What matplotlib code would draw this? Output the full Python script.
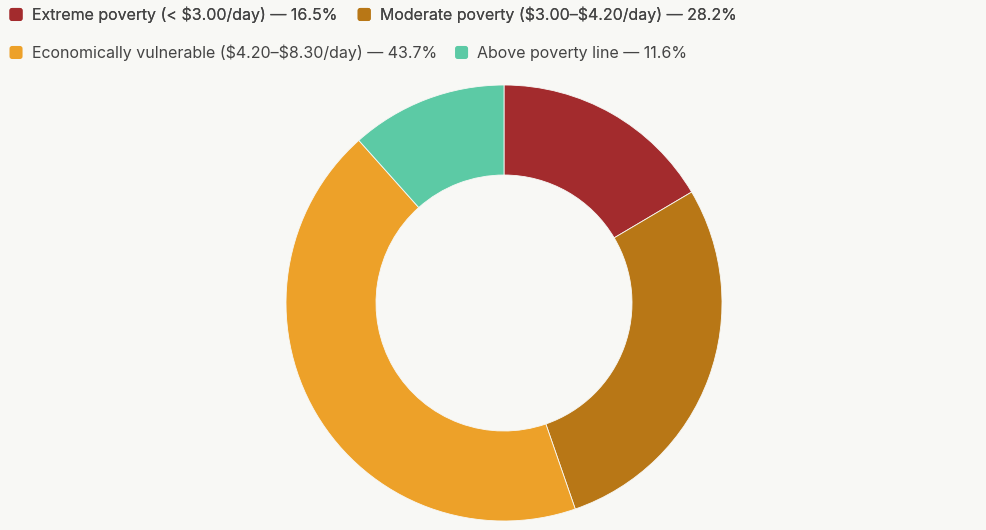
import matplotlib
matplotlib.use("Agg")
import matplotlib.pyplot as plt
from matplotlib.patches import FancyBboxPatch, Patch
from matplotlib.legend_handler import HandlerPatch

categories = ["Extreme poverty (< \\$3.00/day)", "Moderate poverty (\\$3.00\u2013\\$4.20/day)",
              "Economically vulnerable (\\$4.20\u2013\\$8.30/day)", "Above poverty line"]
values = [16.5, 28.2, 43.7, 11.6]
colors = ["#a32b2d", "#b87716", "#eda129", "#5ccaa5"]
bg = "#f8f8f5"

plt.rcParams['font.family'] = ['Inter', 'DejaVu Sans']

W, H = 987, 530
fig = plt.figure(figsize=(W / 100, H / 100), dpi=100)
fig.patch.set_facecolor(bg)

cx, cy, R = 504, 303, 218
ax = fig.add_axes([(cx - R) / W, (H - cy - R) / H, 2 * R / W, 2 * R / H])
ax.set_facecolor(bg)
ax.pie(values, colors=colors, startangle=90, counterclock=False, radius=1,
       wedgeprops=dict(width=1 - 128 / 218, edgecolor=bg, linewidth=0.6))
ax.set_xlim(-1, 1)
ax.set_ylim(-1, 1)
ax.set_aspect('equal')
ax.axis('off')


class RoundHandler(HandlerPatch):
    def create_artists(self, legend, orig_handle, xdescent, ydescent, width, height, fontsize, trans):
        s = min(width, height)
        p = FancyBboxPatch((-xdescent + (width - s) / 2, -ydescent + (height - s) / 2), s, s,
                           boxstyle="round,pad=0,rounding_size=%f" % (s * 0.2),
                           facecolor=orig_handle.get_facecolor(), edgecolor='none',
                           transform=trans)
        return [p]


handles = [Patch(facecolor=c) for c in colors]
labels = [f"{c} \u2014 {v}%" for c, v in zip(categories, values)]

def add_leg(idx, ypix, colsp):
    leg = fig.legend([handles[i] for i in idx], [labels[i] for i in idx],
                     loc='upper left', bbox_to_anchor=(9 / W, 1 - ypix / H),
                     bbox_transform=fig.transFigure, ncol=2, frameon=False,
                     fontsize=11.5, handlelength=0.88, handleheight=0.88,
                     handletextpad=0.55, columnspacing=colsp, borderpad=0, borderaxespad=0,
                     labelcolor="#444444", handler_map={Patch: RoundHandler()})
    return leg

l1 = add_leg([0, 1], 6.5, 1.25)
add_leg([2, 3], 44.5, 1.1)
fig.add_artist(l1)

fig.savefig("out.png", dpi=100, facecolor=bg)
